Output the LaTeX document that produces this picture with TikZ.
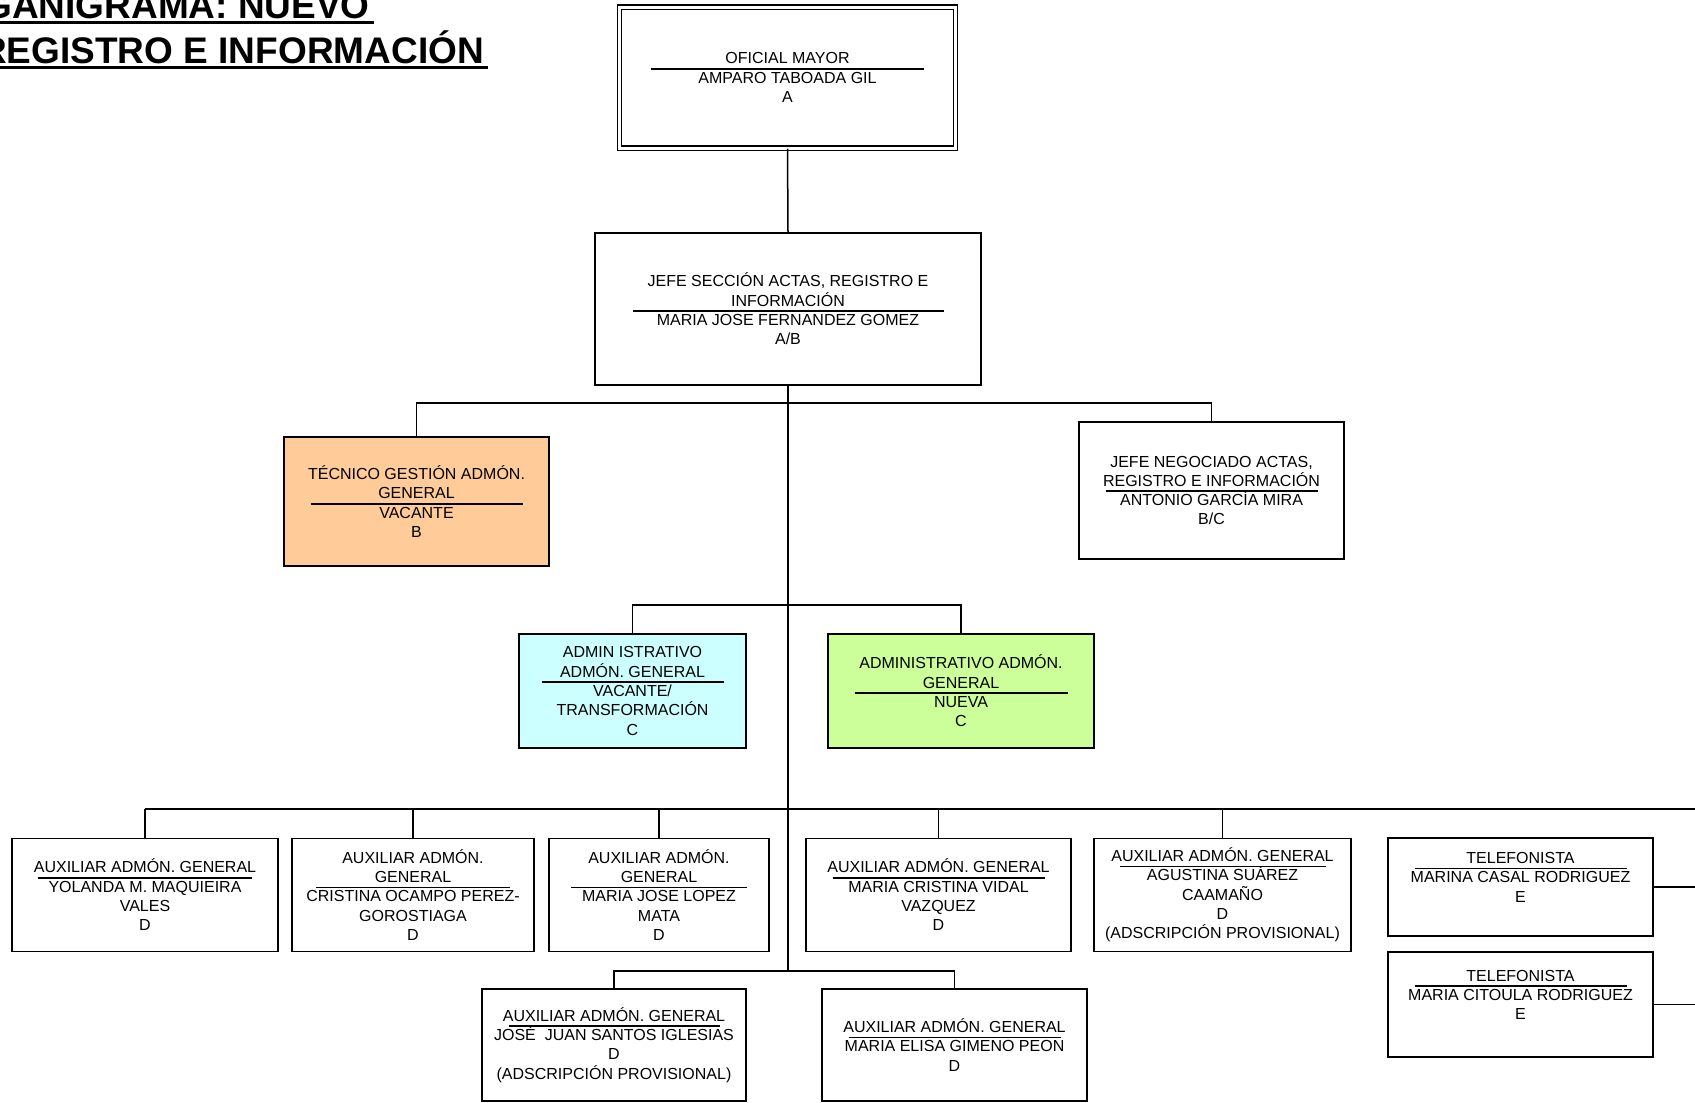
\documentclass[tikz,border=0pt]{standalone}
\usepackage{fontspec}
\setmainfont{Liberation Sans}
\usetikzlibrary{calc}

\definecolor{durazno}{HTML}{FFCC99}
\definecolor{celeste}{HTML}{CCFFFF}
\definecolor{pistacho}{HTML}{CCFF99}

% text of the boxes, and rule between post and holder
\newcommand{\cajafont}{\fontsize{16}{19.3}\selectfont\lineskiplimit=-100pt\relax}
\newcommand{\orgsep}[1]{\\[-13.5pt]\rule{#1pt}{1.7pt}\\[-5.8pt]}

\begin{document}
\begin{tikzpicture}[x=1pt,y=-1pt,
  puesto/.style 2 args={draw, line width=1.5pt, fill=white, align=center, inner sep=0pt,
    minimum width=#1pt, minimum height=#2pt, font=\cajafont},
  enlace/.style={line width=1.5pt},
  tronco/.style={line width=2.8pt},
  titulo/.style={font=\fontsize{37}{40}\selectfont\bfseries, inner sep=0pt, anchor=base east}]

\useasboundingbox (0,0) rectangle (1695,1103);
\fill[white] (0,0) rectangle (1695,1103);
\clip (0,0) rectangle (1695,1103);

\coordinate (bar1) at (788,403);
\coordinate (bar2) at (788,605);
\coordinate (bar3) at (788,809);
\coordinate (bar4) at (788,971);
\coordinate (borde) at (1695,809);

% title
\node[titulo] (tit1) at (370,18) {GANIGRAMA: NUEVO};
\node[titulo] (tit2) at (484,63) {REGISTRO E INFORMACIÓN};
\draw[line width=2.8pt] ([yshift=-4.5pt]tit1.base west) -- ([yshift=-4.5pt,xshift=4pt]tit1.base east);
\draw[line width=2.8pt] ([yshift=-4.5pt]tit2.base west) -- ([yshift=-4.5pt,xshift=4pt]tit2.base east);

% posts
\node[puesto={336}{141}, double, double distance=3pt, line width=1.4pt] (ofmayor) at (787.5,77.5)
  {OFICIAL MAYOR\orgsep{273}AMPARO TABOADA GIL\\A};
\node[puesto={386}{152}] (jefesec) at (788,309)
  {JEFE SECCIÓN ACTAS, REGISTRO E\\INFORMACIÓN\orgsep{311}MARIA JOSE FERNANDEZ GOMEZ\\A/B};
\node[puesto={265}{129}, fill=durazno] (tecnico) at (416.5,501.5)
  {TÉCNICO GESTIÓN ADMÓN.\\GENERAL\orgsep{212}VACANTE\\B};
\node[puesto={265}{137}] (jefeneg) at (1211.5,490.5)
  {JEFE NEGOCIADO ACTAS,\\REGISTRO E INFORMACIÓN\orgsep{212}ANTONIO GARCÍA MIRA\\B/C};
\node[puesto={227}{114}, fill=celeste] (adminis) at (632.5,691)
  {ADMIN ISTRATIVO\\ADMÓN. GENERAL\orgsep{182}VACANTE/\\TRANSFORMACIÓN\\C};
\node[puesto={266}{114}, fill=pistacho] (administ) at (961,691)
  {ADMINISTRATIVO ADMÓN.\\GENERAL\orgsep{213}NUEVA\\C};

\node[puesto={266}{113}] (aux1) at (145,895)
  {AUXILIAR ADMÓN. GENERAL\orgsep{213}YOLANDA M. MAQUIEIRA\\VALES\\D};
\node[puesto={242}{113}] (aux2) at (413,895)
  {AUXILIAR ADMÓN.\\GENERAL\orgsep{194}CRISTINA OCAMPO PEREZ-\\GOROSTIAGA\\D};
\node[puesto={220}{113}] (aux3) at (659,895)
  {AUXILIAR ADMÓN.\\GENERAL\orgsep{176}MARIA JOSE LOPEZ\\MATA\\D};
\node[puesto={265}{113}] (aux4) at (938.5,895)
  {AUXILIAR ADMÓN. GENERAL\orgsep{212}MARIA CRISTINA VIDAL\\VAZQUEZ\\D};
\node[puesto={257}{113}] (aux5) at (1222.5,895)
  {AUXILIAR ADMÓN. GENERAL\orgsep{206}AGUSTINA SUÁREZ\\CAAMAÑO\\D\\(ADSCRIPCIÓN PROVISIONAL)};
\node[puesto={265}{98}] (tel1) at (1520.5,887)
  {TELEFONISTA\orgsep{212}MARINA CASAL RODRIGUEZ\\E\\\mbox{}};
\node[puesto={265}{105}] (tel2) at (1520.5,1004.5)
  {TELEFONISTA\orgsep{212}MARIA CITOULA RODRIGUEZ\\E\\\mbox{}};
\node[puesto={264}{112}] (aux6) at (614,1045)
  {AUXILIAR ADMÓN. GENERAL\orgsep{211}JOSÉ~~JUAN SANTOS IGLESIAS\\D\\(ADSCRIPCIÓN PROVISIONAL)};
\node[puesto={265}{112}] (aux7) at (954.5,1045)
  {AUXILIAR ADMÓN. GENERAL\orgsep{212}MARIA ELISA GIMENO PEON\\D};

% connectors
\draw[enlace] (ofmayor.south) -- (jefesec.north);
\draw[enlace] (tecnico.north) |- (bar1) -| (jefeneg.north);
\draw[enlace] (adminis.north) |- (bar2) -| (administ.north);
\draw[enlace] (aux1.north |- bar3) -- (bar3);
\draw[tronco, line width=2.2pt] (bar3) -- (borde);
\foreach \n in {aux1,aux2,aux3,aux4,aux5}
  \draw[enlace] (\n.north) -- (\n.north |- bar3);
\draw[enlace] (tel1.east) -- (tel1.east -| borde);
\draw[enlace] (tel2.east) -- (tel2.east -| borde);
\draw[enlace] (aux6.north) |- (bar4) -| (aux7.north);
\draw[tronco] (jefesec.south) -- (bar4);

\end{tikzpicture}
\end{document}
